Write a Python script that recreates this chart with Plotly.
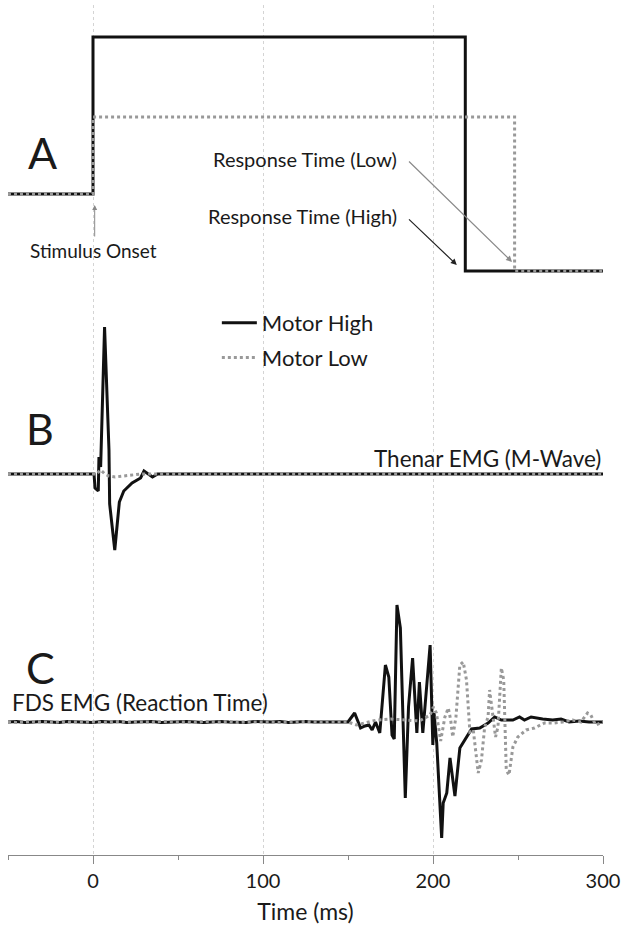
import plotly.graph_objects as go

# ---------------- data ----------------
# Panel A: response traces (normalised level)
a_time_high = [-50, 0, 0, 219, 219, 300]
a_val_high = [0, 0, 1.0, 1.0, -0.49, -0.49]
a_time_low = [-50, 0, 0, 248, 248, 300]
a_val_low = [0, 0, 0.49, 0.49, -0.49, -0.49]

# Panel B: thenar EMG (M-wave), a.u.
b_time_high = [-50, 0, 0.6, 1.2, 3.1, 3.5, 4.5, 6.8, 9.4, 9.8, 12.8, 15.5, 18.1,
               23, 28, 30, 32.5, 35, 38, 300]
b_val_high = [0, 0, 0, -14, -17, 17, 7, 147, 24, -30, -76, -28, -17,
              -9, -4, 3, 0, -3, 0, 0]
b_time_low = [-50, 0, 2, 4.5, 7, 9.4, 13, 18, 23, 28, 300]
b_val_low = [0, 0, 0, 4, 0, -2, -3, -2, -1, 0, 0]

# Panel C: FDS EMG (reaction time), a.u.
c_time_high = [-50, -45, -40, -35, -30, -25, -20, -15, -10, -5, 0, 5, 10, 15, 20,
               25, 30, 35, 40, 45, 50, 55, 60, 65, 70, 75, 80, 85, 90, 95, 100,
               105, 110, 115, 120, 125, 130, 135, 140, 145, 150,
               153.9, 157.4, 160, 162.3, 164.2, 166.2, 168.7, 172, 174, 175.9,
               177.2, 178.8, 180.8, 183.7, 185.6, 188, 190.5, 192, 194, 198.3,
               199.9, 200.6, 202.2, 205.1, 206, 208.1, 210, 212.9, 215.8, 219.7,
               222.7, 227.5, 232.4, 236.3, 240.2, 247, 250.9, 253.8, 257.7,
               264.5, 270.4, 275.3, 280.1, 286, 291.8, 296.7, 300]
c_val_high = [0, 0.5, -0.5, 0, 0.5, 0, -0.5, 0.5, 0, 0, -0.5, 0.5, 0, 0.5, -0.5,
              0, 0, 0.5, -0.5, 0, 0, 0.5, 0, -0.5, 0, 0.5, 0, 0, -0.5, 0.5, 0,
              0, 0.5, -0.5, 0, 0.5, 0, 0, -0.5, 0, 0,
              9, -6, -4, -3, -8, 0, -11, 57, 45, -13,
              -17, 117, 94, -76, 15, 64, -11, 40, -11, 77,
              -23, 9, -21, -116, -81, -71, -36, -74, -26, -15,
              -7, -6, -1, 5, 2, 2, 5, 2, 5,
              3, 2, 3, 0, 1, 0, 0, 0]
c_time_low = [-50, -45, -40, -35, -30, -25, -20, -15, -10, -5, 0, 5, 10, 15, 20,
              25, 30, 35, 40, 45, 50, 55, 60, 65, 70, 75, 80, 85, 90, 95, 100,
              105, 110, 115, 120, 125, 130, 135, 140, 145, 150, 155, 160, 167,
              175, 185, 192, 198.3, 200.2, 202, 204.5, 207, 209, 210.4, 211.6,
              213.5, 215.8, 217.8, 219.7, 221.7, 223.7, 226.6, 228.5, 230.4,
              232.4, 233.3, 235.3, 236.8, 238.2, 240.2, 241.6, 243.1, 244.7,
              247, 249.9, 254.8, 259.7, 265.6, 271.4, 276.3, 282.1, 287, 290.9,
              292.8, 295.7, 300]
c_val_low = [0, -0.5, 0, 0.5, 0, -0.5, 0, 0, 0.5, 0, 0, -0.5, 0, 0.5, 0, 0,
             -0.5, 0, 0.5, 0, 0, 0, -0.5, 0.5, 0, 0, 0.5, -0.5, 0, 0, 0.5, 0,
             -0.5, 0, 0, 0.5, 0, -0.5, 0, 0, 0,
             -3, -1, 2, 3, 2, 1, 7, 15, 9, -19, 5, 14, 2, -15,
             5, 57, 60, 42, -10, -8, -51, -38, -5,
             5, 32, 5, -15, -5, 54, 42, -48, -53,
             -25, -15, -8, -6, -1, -1, 0, 2, 0, 9,
             7, -3, 0]

series_names = ["Motor High", "Motor Low"]
panel_labels = ["A", "B", "C"]
tick_values = [0, 100, 200, 300]

# ---------------- layout constants ----------------
A_BASE, A_SCALE = 661, 157
B_BASE = 381
C_BASE = 133
FONT = "Lato"
TXT = "#1a1a1a"
BLACK = "#111111"
GRAY = "#999999"


def stack(parts):
    xs, ys = [], []
    for i, (t, v, base, scale) in enumerate(parts):
        if i:
            xs.append(None)
            ys.append(None)
        xs += list(t)
        ys += [base + scale * val for val in v]
    return xs, ys


hx, hy = stack([(a_time_high, a_val_high, A_BASE, A_SCALE),
                (b_time_high, b_val_high, B_BASE, 1),
                (c_time_high, c_val_high, C_BASE, 1)])
lx, ly = stack([(a_time_low, a_val_low, A_BASE, A_SCALE),
                (b_time_low, b_val_low, B_BASE, 1),
                (c_time_low, c_val_low, C_BASE, 1)])

fig = go.Figure()
fig.add_trace(go.Scatter(x=hx, y=hy, mode="lines", name=series_names[0],
                         line=dict(color=BLACK, width=3), legend="legend",
                         showlegend=True, connectgaps=False))
fig.add_trace(go.Scatter(x=lx, y=ly, mode="lines", name=series_names[1],
                         line=dict(color=GRAY, width=3, dash="dot"),
                         legend="legend2", showlegend=True, connectgaps=False))

end_level = A_BASE + A_SCALE * a_val_high[-1]
ann = []
# panel letters
for lab, (xx, yy) in zip(panel_labels, [(-30, 703), (-31, 427), (-31, 188)]):
    ann.append(dict(x=xx, y=yy, text=lab, showarrow=False,
                    font=dict(family=FONT, size=43, color=TXT)))
# panel texts
ann.append(dict(x=300, y=397, text="Thenar EMG (M-Wave)", showarrow=False,
                xanchor="right", font=dict(family=FONT, size=22.5, color=TXT)))
ann.append(dict(x=-49, y=153, text="FDS EMG (Reaction Time)", showarrow=False,
                xanchor="left", font=dict(family=FONT, size=22.5, color=TXT)))
ann.append(dict(x=0.5, y=605, text="Stimulus Onset", showarrow=False,
                font=dict(family=FONT, size=19, color=TXT)))
ann.append(dict(x=180, y=696, text="Response Time (Low)", showarrow=False,
                xanchor="right", font=dict(family=FONT, size=20, color=TXT)))
ann.append(dict(x=180, y=639, text="Response Time (High)", showarrow=False,
                xanchor="right", font=dict(family=FONT, size=20, color=TXT)))
# arrows
ann.append(dict(x=a_time_high[1] + 1, y=A_BASE - 11, ax=a_time_high[1] + 1, ay=A_BASE - 44,
                axref="x", ayref="y", text="", showarrow=True, arrowhead=2,
                arrowsize=1, arrowwidth=1, arrowcolor="#888888"))
ann.append(dict(x=a_time_low[3] - 1.5, y=end_level + 9, ax=185, ay=695,
                axref="x", ayref="y", text="", showarrow=True, arrowhead=2,
                arrowsize=1, arrowwidth=1.2, arrowcolor="#8a8a8a"))
ann.append(dict(x=a_time_high[3] - 5, y=end_level + 6, ax=185, ay=637,
                axref="x", ayref="y", text="", showarrow=True, arrowhead=2,
                arrowsize=1, arrowwidth=1.2, arrowcolor="#222222"))

fig.update_layout(
    width=625, height=929,
    margin=dict(l=8, r=18, t=5, b=74),
    paper_bgcolor="white", plot_bgcolor="white",
    font=dict(family=FONT, color=TXT),
    showlegend=True,
    annotations=ann,
    legend=dict(x=0.351, y=0.626, xanchor="left", yanchor="middle",
                bgcolor="rgba(0,0,0,0)", itemwidth=35,
                font=dict(family=FONT, size=22, color=TXT)),
    legend2=dict(x=0.351, y=0.585, xanchor="left", yanchor="middle",
                 bgcolor="rgba(0,0,0,0)", itemwidth=35,
                 font=dict(family=FONT, size=22, color=TXT)),
    xaxis=dict(range=[-50, 300], tickvals=tick_values, showgrid=True,
               gridcolor="#d4d4d4", griddash="dot", gridwidth=1,
               zeroline=False, showline=True, linecolor="#888888", linewidth=1,
               ticks="outside", ticklen=8, tickcolor="#888888",
               tickfont=dict(family=FONT, size=20, color=TXT),
               minor=dict(dtick=50, tick0=-50, ticks="outside", ticklen=4,
                          tickcolor="#888888", showgrid=False),
               title=dict(text="Time (ms)", standoff=12,
                          font=dict(family=FONT, size=23, color=TXT))),
    yaxis=dict(visible=False, range=[0, 850]),
)

fig.write_html("out.html")
